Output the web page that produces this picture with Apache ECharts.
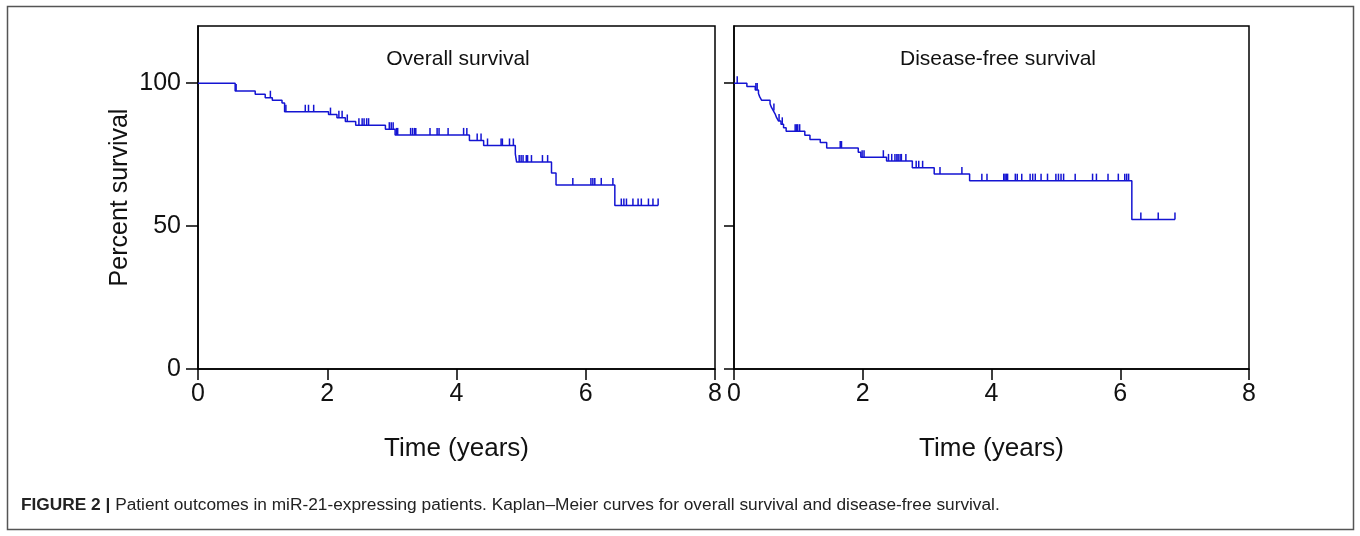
<!DOCTYPE html>
<html>
<head>
<meta charset="utf-8">
<script src="https://cdn.jsdelivr.net/npm/echarts@6/dist/echarts.min.js"></script>
<style>
html,body{margin:0;padding:0;background:#fff;}
#chart{width:1360px;height:536px;}
</style>
</head>
<body>
<div id="chart"></div>
<script>
// ---- Data ----
const panelTitles = ['Overall survival', 'Disease-free survival'];
const xTicks = [0, 2, 4, 6, 8];
const yTicks = [0, 50, 100];
const xAxisName = 'Time (years)';
const yAxisName = 'Percent survival';
const captionBold = 'FIGURE 2 |';
const captionText = ' Patient outcomes in miR-21-expressing patients. Kaplan–Meier curves for overall survival and disease-free survival.';

// Overall survival: event times (years) and survival (%) after each event
const osEventTimes = [0.575, 0.885, 1.04, 1.15, 1.30, 1.34, 2.02, 2.15, 2.28, 2.44, 2.90, 3.05, 4.20, 4.42, 4.91, 4.93, 5.47, 5.54, 6.45];
const osEventSurv  = [97.3, 96.1, 94.9, 94.0, 93.1, 90.0, 89.0, 87.9, 86.6, 85.3, 83.9, 81.9, 79.9, 78.2, 75.3, 72.4, 68.6, 64.4, 57.2];
const osEndTime = 7.12;
const osCensorTimes = [0.59, 1.12, 1.36, 1.66, 1.71, 1.79, 2.05, 2.18, 2.23, 2.31, 2.49, 2.54, 2.57, 2.61, 2.64,
  2.96, 2.99, 3.02, 3.07, 3.09, 3.29, 3.32, 3.35, 3.37, 3.59, 3.70, 3.73, 3.87, 4.11, 4.16, 4.32, 4.38,
  4.48, 4.69, 4.71, 4.82, 4.88, 4.97, 5.00, 5.03, 5.08, 5.10, 5.16, 5.33, 5.41, 5.80, 6.08, 6.11, 6.14,
  6.24, 6.42, 6.55, 6.59, 6.63, 6.73, 6.81, 6.86, 6.97, 7.04, 7.12];

// Disease-free survival
const dfsEventTimes = [0.20, 0.33, 0.38, 0.40, 0.43, 0.56, 0.58, 0.61, 0.64, 0.66, 0.69, 0.73, 0.77, 0.81, 1.10, 1.18, 1.34, 1.44, 1.93, 1.97, 2.37, 2.77, 3.11, 3.66, 6.18];
const dfsEventSurv  = [98.8, 97.6, 96.4, 95.2, 94.0, 92.8, 91.6, 90.4, 89.2, 88.0, 86.8, 85.6, 84.4, 83.2, 81.8, 80.3, 79.2, 77.3, 75.8, 74.1, 72.8, 70.4, 68.2, 65.9, 52.3];
const dfsEndTime = 6.85;
const dfsCensorTimes = [0.05, 0.34, 0.36, 0.62, 0.70, 0.75, 0.95, 0.97, 0.99, 1.02, 1.65, 1.67, 1.99, 2.02, 2.32,
  2.40, 2.45, 2.50, 2.53, 2.55, 2.58, 2.60, 2.67, 2.83, 2.87, 2.93, 3.20, 3.54, 3.85, 3.93, 4.19, 4.21,
  4.23, 4.25, 4.37, 4.40, 4.47, 4.60, 4.64, 4.68, 4.77, 4.87, 5.00, 5.04, 5.08, 5.12, 5.30, 5.57, 5.63,
  5.81, 5.97, 6.07, 6.10, 6.13, 6.32, 6.59, 6.85];

// ---- Helpers ----
function kmPoints(times, surv, endTime) {
  const pts = [[0, 100]];
  for (let i = 0; i < times.length; i++) pts.push([times[i], surv[i]]);
  pts.push([endTime, surv[surv.length - 1]]);
  return pts;
}
function survAt(times, surv, t) {
  let s = 100;
  for (let i = 0; i < times.length; i++) if (times[i] <= t) s = surv[i];
  return s;
}
function censorPoints(ctimes, times, surv) {
  return ctimes.map(t => [t, survAt(times, surv, t)]);
}

const BLUE = '#1414d2';
const AXIS_FONT = "'Liberation Sans', Arial, sans-serif";
const TEXT_FONT = "'Liberation Sans', Arial, sans-serif";

function censorRender(params, api) {
  const p = api.coord([api.value(0), api.value(1)]);
  return {
    type: 'line',
    shape: { x1: p[0], y1: p[1], x2: p[0], y2: p[1] - 7 },
    style: { stroke: BLUE, lineWidth: 1.5 }
  };
}

const grids = [
  { left: 198, top: 26, width: 517, height: 343, show: true, borderColor: '#000', borderWidth: 1.5, backgroundColor: 'transparent' },
  { left: 734, top: 26, width: 515, height: 343, show: true, borderColor: '#000', borderWidth: 1.5, backgroundColor: 'transparent' }
];

function makeX(i) {
  return {
    type: 'value', gridIndex: i, min: 0, max: 8, interval: 2,
    name: xAxisName, nameLocation: 'middle', nameGap: 67,
    nameTextStyle: { fontFamily: AXIS_FONT, fontSize: 26, color: '#111' },
    axisLine: { show: true, onZero: false, lineStyle: { color: '#000', width: 1.5 } },
    axisTick: { show: true, inside: false, length: 11, lineStyle: { color: '#000', width: 1.5 }, customValues: xTicks },
    axisLabel: { show: true, margin: 13, fontFamily: AXIS_FONT, fontSize: 25, color: '#111', customValues: xTicks },
    splitLine: { show: false }
  };
}
function makeY(i) {
  return {
    type: 'value', gridIndex: i, min: 0, max: 120,
    name: i === 0 ? yAxisName : '', nameLocation: 'middle', nameGap: 65, nameRotate: 90,
    nameTextStyle: { fontFamily: AXIS_FONT, fontSize: 25, color: '#111' },
    axisLine: { show: true, onZero: false, lineStyle: { color: '#000', width: 1.5 } },
    axisTick: { show: true, inside: false, length: i === 0 ? 12 : 10, lineStyle: { color: '#000', width: 1.5 }, customValues: yTicks },
    axisLabel: { show: i === 0, margin: 17, fontFamily: AXIS_FONT, fontSize: 25, color: '#111', customValues: yTicks },
    splitLine: { show: false }
  };
}

const chart = echarts.init(document.getElementById('chart'), null, { renderer: 'canvas' });
chart.setOption({
  animation: false,
  backgroundColor: '#fff',
  title: [
    { text: panelTitles[0], left: 453, top: 44, textAlign: 'center',
      textStyle: { fontFamily: TEXT_FONT, fontSize: 21, fontWeight: 'normal', color: '#111' } },
    { text: panelTitles[1], left: 993, top: 44, textAlign: 'center',
      textStyle: { fontFamily: TEXT_FONT, fontSize: 21, fontWeight: 'normal', color: '#111' } }
  ],
  grid: grids,
  xAxis: [makeX(0), makeX(1)],
  yAxis: [makeY(0), makeY(1)],
  series: [
    { type: 'line', xAxisIndex: 0, yAxisIndex: 0, step: 'end', symbol: 'none',
      lineStyle: { color: BLUE, width: 1.5 }, data: kmPoints(osEventTimes, osEventSurv, osEndTime), z: 3 },
    { type: 'custom', xAxisIndex: 0, yAxisIndex: 0, renderItem: censorRender,
      data: censorPoints(osCensorTimes, osEventTimes, osEventSurv), z: 4 },
    { type: 'line', xAxisIndex: 1, yAxisIndex: 1, step: 'end', symbol: 'none',
      lineStyle: { color: BLUE, width: 1.5 }, data: kmPoints(dfsEventTimes, dfsEventSurv, dfsEndTime), z: 3 },
    { type: 'custom', xAxisIndex: 1, yAxisIndex: 1, renderItem: censorRender,
      data: censorPoints(dfsCensorTimes, dfsEventTimes, dfsEventSurv), z: 4 }
  ],
  graphic: [
    { type: 'rect', shape: { x: 7.5, y: 6.5, width: 1346, height: 523 },
      style: { fill: 'none', stroke: '#555', lineWidth: 1.5 }, silent: true, z: -1 },
    { type: 'text', left: 21, top: 497,
      style: {
        text: '{b|' + captionBold + '}{r|' + captionText + '}',
        rich: {
          b: { fontFamily: TEXT_FONT, fontSize: 17.3, fontWeight: 'bold', fill: '#222' },
          r: { fontFamily: TEXT_FONT, fontSize: 17.3, fill: '#222' }
        }
      } }
  ]
});
</script>
</body>
</html>
